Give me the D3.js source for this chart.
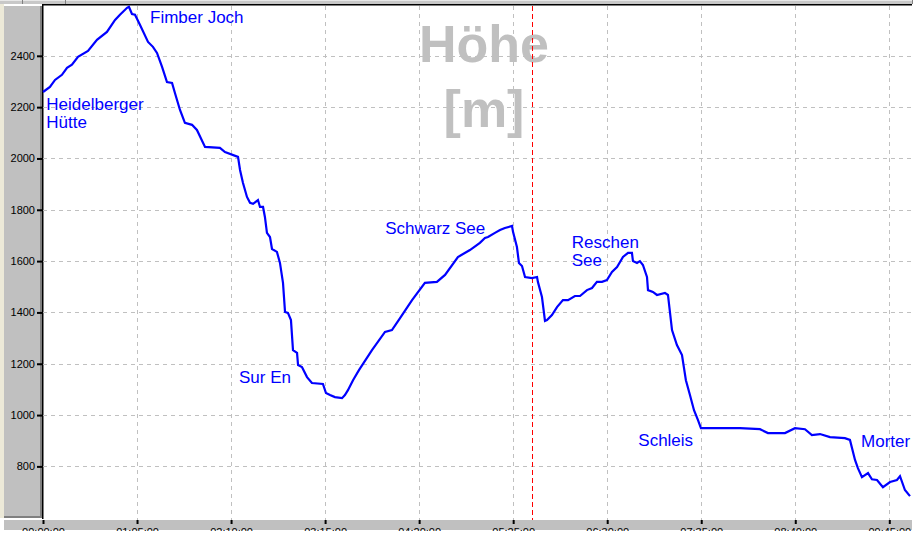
<!DOCTYPE html>
<html><head><meta charset="utf-8">
<script src="https://cdn.jsdelivr.net/npm/d3@7"></script>
<style>body{margin:0;background:#fff;overflow:hidden}svg{display:block}</style>
</head><body>
<script>
// elapsed time (minutes) and elevation (m)
const timeMin = [0,4.8,8.3,13.1,16.6,20.0,24.2,31.1,37.3,44.2,49.8,53.2,58.1,59.4,61.5,63.6,67.0,72.6,76.0,78.8,82.3,85.7,89.2,91.2,94.7,98.1,103.0,106.4,112.0,122.3,125.8,134.8,136.2,138.2,141.0,143.1,145.2,148.6,150.0,152.1,153.4,154.8,156.9,158.3,161.7,163.8,165.9,167.3,169.3,171.4,172.8,175.6,176.3,179.0,182.5,185.9,193.5,195.6,198.4,201.8,206.7,208.7,210.8,214.3,218.4,227.4,236.4,241.2,246.8,255.1,264.0,272.3,277.9,286.8,295.1,302.0,305.5,307.6,312.4,315.9,319.3,324.2,324.9,327.6,329.0,331.1,333.2,338.0,341.5,342.1,344.9,347.0,348.4,351.8,355.3,359.4,362.9,367.7,371.2,376.0,379.5,382.9,386.4,389.8,393.3,396.8,400.9,404.4,407.1,407.8,410.6,412.6,414.7,417.5,418.2,421.6,424.4,429.9,432.0,434.8,438.2,441.7,444.4,447.2,450.0,452.7,454.8,468.0,481.8,495.6,501.1,512.9,519.8,526.7,531.5,537.1,544.0,554.3,557.8,561.3,563.3,566.1,570.3,573.0,576.5,580.6,585.5,590.3,592.4,595.8,599.3];
const elevation = [2259,2279,2306,2326,2353,2365,2396,2419,2462,2493,2540,2560,2587,2591,2563,2560,2521,2454,2435,2411,2357,2298,2294,2255,2189,2139,2131,2111,2045,2041,2025,2006,1955,1905,1850,1827,1823,1838,1811,1811,1772,1710,1694,1647,1636,1593,1515,1402,1398,1370,1253,1242,1195,1187,1148,1125,1121,1086,1078,1070,1066,1078,1097,1136,1175,1253,1324,1331,1378,1448,1515,1519,1546,1616,1643,1671,1690,1694,1710,1721,1729,1737,1714,1655,1593,1581,1538,1534,1538,1519,1460,1367,1370,1390,1421,1448,1448,1464,1464,1487,1495,1519,1519,1526,1558,1577,1616,1632,1632,1600,1593,1600,1585,1538,1487,1480,1468,1476,1468,1331,1273,1234,1136,1078,1019,981,949,949,949,945,930,930,949,945,922,926,914,910,903,825,793,758,774,750,747,719,739,747,762,708,684];
const yTicks = [800,1000,1200,1400,1600,1800,2000,2200,2400];
const xTicks = [0,65,130,195,260,325,390,455,520,585];
const xTickLabels = ["00:00:00","01:05:00","02:10:00","03:15:00","04:20:00","05:25:00","06:30:00","07:35:00","08:40:00","09:45:00"];
const markerMin = [338];
const placeNames = ["Fimber Joch","Heidelberger","Hütte","Sur En","Schwarz See","Reschen","See","Schleis","Morter"];
const placeMin = [74,2.3,2.3,135.5,236.5,365.5,365.5,411.5,565.5];
const placeElev = [2528,2189,2119,1125,1706,1651,1581,879,876];
const titleLines = ["Höhe","[m]"];

const W = 923, H = 541;
const L = 43, R = 911, T = 5, B = 519;
const svg = d3.select("body").append("svg").attr("width", W).attr("height", H);

const x = d3.scaleLinear().domain([0, 600]).range([L, R]);
const y = d3.scaleLinear().domain([595, 2598]).range([B, T]);

// frame chrome
svg.append("rect").attr("x",0).attr("y",0).attr("width",4).attr("height",518).attr("fill","#ece9d8");
svg.append("rect").attr("x",0).attr("y",0).attr("width",912).attr("height",4).attr("fill","#c8c8c8");
svg.append("line").attr("x1",0).attr("x2",912).attr("y1",0.5).attr("y2",0.5).attr("stroke","#e8e8e8");
[22,65,912].forEach(v=>svg.append("line").attr("x1",v+0.5).attr("x2",v+0.5).attr("y1",0).attr("y2",4).attr("stroke","#808080"));
svg.append("rect").attr("x",4).attr("y",6).attr("width",36).attr("height",511).attr("fill","#c0c0c0");
svg.append("rect").attr("x",40).attr("y",6).attr("width",2).attr("height",512).attr("fill","#808080");
svg.append("rect").attr("x",4).attr("y",516).attr("width",38).attr("height",2).attr("fill","#808080");
svg.append("rect").attr("x",42).attr("y",4).attr("width",1.5).attr("height",515).attr("fill","#000");
svg.append("rect").attr("x",42).attr("y",4).attr("width",870).attr("height",1.5).attr("fill","#000");
svg.append("rect").attr("x",4).attr("y",520).attr("width",908).attr("height",10).attr("fill","#c0c0c0");

// grid
const g = svg.append("g");
g.selectAll(".hg").data(yTicks).join("line")
  .attr("x1",L).attr("x2",R).attr("y1",d=>Math.round(y(d))+0.5).attr("y2",d=>Math.round(y(d))+0.5)
  .attr("stroke","#c0c0c0").attr("stroke-dasharray","4,4");
g.selectAll(".vg").data(xTicks.slice(1)).join("line")
  .attr("x1",d=>Math.round(x(d))+0.5).attr("x2",d=>Math.round(x(d))+0.5).attr("y1",T+1).attr("y2",B+1)
  .attr("stroke","#c0c0c0").attr("stroke-dasharray","4,4");

// y axis
const yAxis = d3.axisLeft(y).tickValues(yTicks).tickSize(5).tickPadding(2).tickFormat(d3.format("d"));
const ya = svg.append("g").attr("transform",`translate(${L-1},0)`).call(yAxis);
ya.select(".domain").remove();
ya.selectAll("line").attr("stroke","#000").attr("stroke-width",2);
ya.selectAll("text").attr("font-family","Arial, 'Liberation Sans', sans-serif").attr("font-size",11).attr("fill","#000");

// x axis
const xAxis = d3.axisBottom(x).tickValues(xTicks).tickSize(4).tickPadding(4).tickFormat((d,i)=>xTickLabels[i]);
const xa = svg.append("g").attr("transform",`translate(0,520)`).call(xAxis);
xa.select(".domain").remove();
xa.selectAll("line").attr("stroke","#000").attr("stroke-width",2);
xa.selectAll("text").attr("font-family","Arial, 'Liberation Sans', sans-serif").attr("font-size",11).attr("fill","#000");
svg.append("rect").attr("x",0).attr("y",531).attr("width",W).attr("height",10).attr("fill","#fff");

// title
svg.append("g").selectAll("text").data(titleLines).join("text")
  .attr("x",484).attr("y",(d,i)=>62+i*65).attr("text-anchor","middle")
  .attr("font-family","Arial, 'Liberation Sans', sans-serif").attr("font-weight","bold")
  .attr("font-size",52).attr("fill","#c0c0c0").text(d=>d);

// marker
svg.selectAll(".mk").data(markerMin).join("line")
  .attr("x1",d=>Math.round(x(d))+0.5).attr("x2",d=>Math.round(x(d))+0.5).attr("y1",T+1).attr("y2",B+1)
  .attr("stroke","#ff0000").attr("stroke-dasharray","5,3");

// line
const data = timeMin.map((t,i)=>[t,elevation[i]]);
svg.append("path").datum(data)
  .attr("d", d3.line().x(d=>x(d[0])).y(d=>y(d[1])))
  .attr("fill","none").attr("stroke","#0000ff").attr("stroke-width",2.2).attr("stroke-linejoin","miter");

// labels
svg.append("g").selectAll("text").data(placeNames).join("text")
  .attr("x",(d,i)=>x(placeMin[i])).attr("y",(d,i)=>y(placeElev[i]))
  .attr("font-family","Arial, 'Liberation Sans', sans-serif").attr("font-size",17).attr("fill","#0000ff")
  .text(d=>d);
</script>
</body></html>
